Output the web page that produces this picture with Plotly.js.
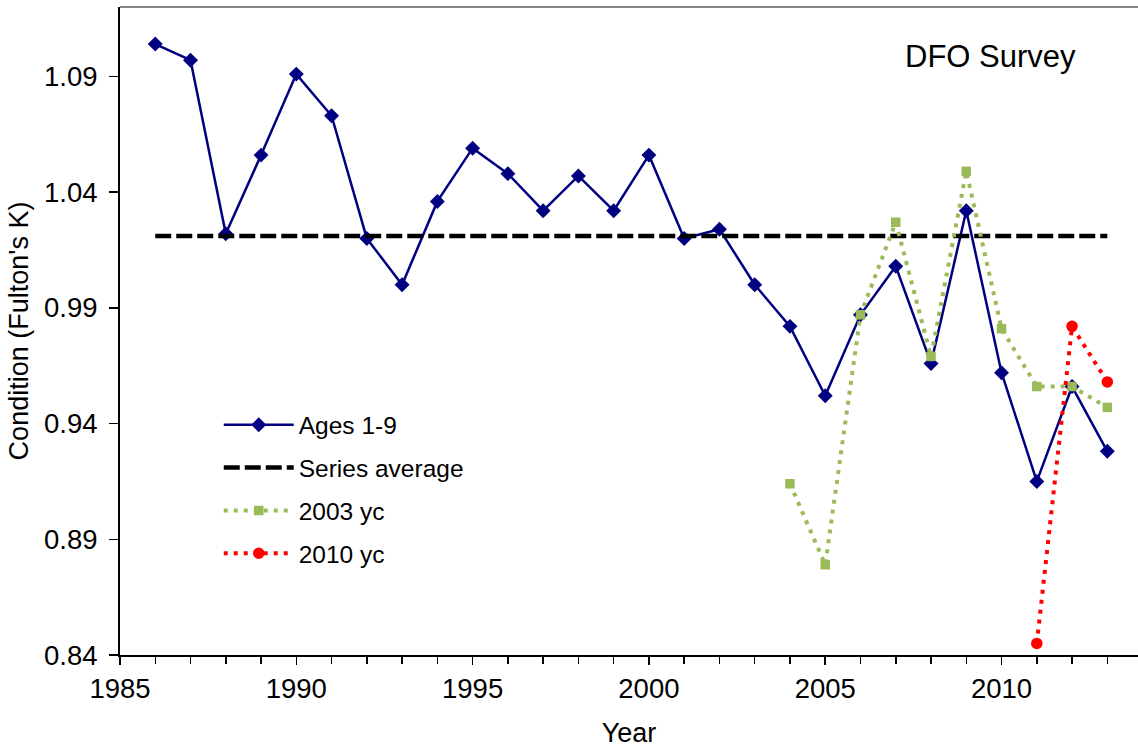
<!DOCTYPE html>
<html>
<head>
<meta charset="utf-8">
<script src="https://cdn.plot.ly/plotly-3.0.1.min.js"></script>
<style>html,body{margin:0;padding:0;background:#fff;}#chart{width:1138px;height:748px;}</style>
</head>
<body>
<div id="chart"></div>
<script>
const years = [1986,1987,1988,1989,1990,1991,1992,1993,1994,1995,1996,1997,1998,1999,2000,2001,2002,2003,2004,2005,2006,2007,2008,2009,2010,2011,2012,2013];
const ages19 = [1.104,1.097,1.022,1.056,1.091,1.073,1.020,1.000,1.036,1.059,1.048,1.032,1.047,1.032,1.056,1.020,1.024,1.000,0.982,0.952,0.987,1.008,0.966,1.032,0.962,0.915,0.956,0.928];
const seriesAverage = 1.021;
const yc2003Years = [2004,2005,2006,2007,2008,2009,2010,2011,2012,2013];
const yc2003 = [0.914,0.879,0.987,1.027,0.969,1.049,0.981,0.956,0.956,0.947];
const yc2010Years = [2011,2012,2013];
const yc2010 = [0.845,0.982,0.958];
const yTicks = [0.84,0.89,0.94,0.99,1.04,1.09];
const xTicks = [1985,1990,1995,2000,2005,2010];

const FONT = 'Liberation Sans, Arial, sans-serif';

const traces = [
  {x: years, y: ages19, name: 'Ages 1-9', type: 'scatter', mode: 'lines+markers',
   line: {color: '#000080', width: 2.5}, marker: {symbol: 'diamond', size: 11.5, color: '#000080'},
   legendgroup: 'a'},
  {x: [years[0], years[years.length-1]], y: [seriesAverage, seriesAverage], name: 'Series average',
   type: 'scatter', mode: 'lines', line: {color: '#000000', width: 4.5, dash: '16px,5px'},
   legendgroup: 'b'},
  {x: yc2003Years, y: yc2003, name: '2003 yc', type: 'scatter', mode: 'lines+markers',
   line: {color: '#9BBB59', width: 4, dash: '4px,6px'}, marker: {symbol: 'square', size: 9.5, color: '#9BBB59'},
   legendgroup: 'c'},
  {x: yc2010Years, y: yc2010, name: '2010 yc', type: 'scatter', mode: 'lines+markers',
   line: {color: '#FF0000', width: 4, dash: '4px,6px'}, marker: {symbol: 'circle', size: 11.5, color: '#FF0000'},
   legendgroup: 'd'}
];

const layout = {
  width: 1138, height: 748,
  margin: {l: 120, r: 0, t: 7, b: 93},
  paper_bgcolor: '#ffffff', plot_bgcolor: '#ffffff',
  font: {family: FONT, size: 27, color: '#000'},
  showlegend: true,
  legend: {x: 0.097, y: 0.39, xanchor: 'left', yanchor: 'top', bgcolor: 'rgba(0,0,0,0)',
           font: {family: FONT, size: 24.5, color: '#000'}, traceorder: 'grouped', tracegroupgap: 8,
           itemwidth: 70},
  xaxis: {range: [1985, 2013.87], tickvals: xTicks, ticktext: xTicks.map(String),
          ticks: 'outside', ticklen: 8, tickwidth: 1.5, tickcolor: '#000',
          showline: true, linecolor: '#000', linewidth: 2, showgrid: false, zeroline: false,
          minor: {dtick: 1, tick0: 1985, ticks: 'outside', ticklen: 7, tickwidth: 1.5, tickcolor: '#000', showgrid: false},
          tickfont: {family: FONT, size: 27.5}, ticklabelstandoff: 0,
          title: {text: 'Year', font: {family: FONT, size: 27}, standoff: 20}},
  yaxis: {range: [0.84, 1.12], tickvals: yTicks, ticktext: yTicks.map(v => v.toFixed(2)),
          ticks: 'outside', ticklen: 9, tickwidth: 1.5, tickcolor: '#000',
          showline: true, linecolor: '#000', linewidth: 2, showgrid: false, zeroline: false,
          tickfont: {family: FONT, size: 27.5}, ticklabelstandoff: 6,
          title: {text: "Condition (Fulton's K)", font: {family: FONT, size: 27}, standoff: 8}},
  shapes: [{type: 'line', xref: 'paper', yref: 'paper', x0: 0, x1: 1, y0: 1, y1: 1,
            line: {color: '#888888', width: 2}}],
  annotations: [{text: 'DFO Survey', xref: 'paper', yref: 'paper', x: 0.855, y: 0.923,
                 xanchor: 'center', yanchor: 'middle', showarrow: false,
                 font: {family: FONT, size: 31, color: '#000'}}]
};

Plotly.newPlot('chart', traces, layout, {displayModeBar: false, staticPlot: true});
</script>
</body>
</html>
